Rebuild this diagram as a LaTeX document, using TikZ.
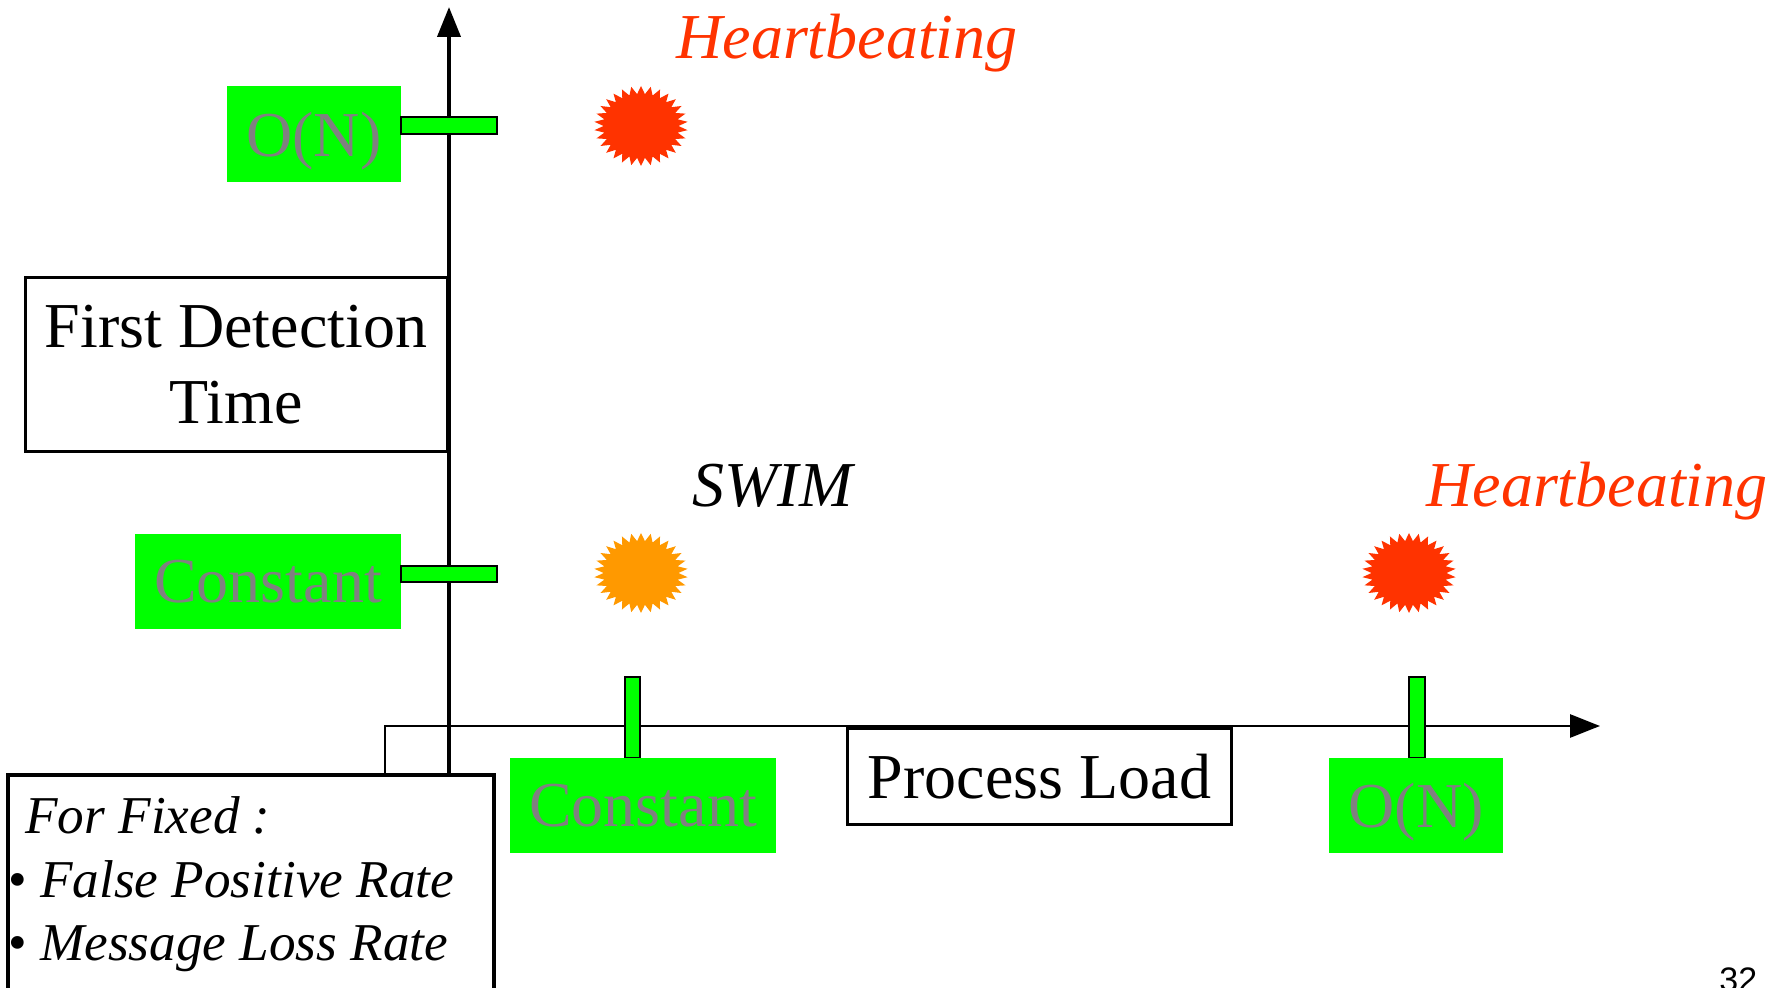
\documentclass[tikz,border=0pt]{standalone}
\usepackage{fontspec}
\setmainfont{Liberation Serif}
\setsansfont{Liberation Sans}
\usetikzlibrary{shapes.geometric,arrows.meta}
\definecolor{hbred}{HTML}{FF3300}
\definecolor{swimor}{HTML}{FF9900}
\definecolor{lgreen}{HTML}{00FF00}
\definecolor{lgray}{HTML}{808080}
\begin{document}
\begin{tikzpicture}[x=0.5pt,y=-0.5pt,
  bigfont/.style={font=\fontsize{32}{38}\selectfont},
  legfont/.style={font=\fontsize{26.6}{31.5}\selectfont\itshape},
  greenlab/.style={bigfont, fill=lgreen, text=lgray, inner sep=0pt, outer sep=0pt},
  ticklab/.style={fill=lgreen, draw=black, line width=0.85pt, inner sep=0pt, outer sep=0pt},
  framebox/.style={draw=black, line width=1.5pt, inner sep=0pt, align=center, bigfont},
  burst/.style={star, star points=30, star point ratio=1.25, minimum size=40pt, inner sep=0pt, xscale=1.17, transform shape},
  hbtext/.style={bigfont, text=hbred, inner sep=0pt, anchor=base west},
  axisline/.style={line width=2pt},
  xaxisline/.style={line width=1.4pt}
]
\useasboundingbox (0,0) rectangle (1788,988);
\clip (0,0) rectangle (1788,988);

% legend box
\node[draw=black, line width=2pt, minimum width=243pt, minimum height=120pt, anchor=north west, inner sep=0pt, outer sep=0pt] (legend) at (8,775) {};
\node[legfont, anchor=base west, inner sep=0pt] (leg1) at (25,833) {For Fixed :};
\node[legfont, anchor=base west, inner sep=0pt] (leg2) at (8,897) {\textup{•} False Positive Rate};
\node[legfont, anchor=base west, inner sep=0pt] (leg3) at (8,960) {\textup{•} Message Loss Rate};

% axes
\coordinate (ybot) at (449,775);
\coordinate (ytop) at (449,7);
\coordinate (xstart) at (385,775);
\coordinate (xcorner) at (385,726);
\coordinate (xend) at (1600,726);
\draw[axisline, -{Triangle[length=15pt,width=11.5pt]}] (ybot) -- (ytop);
\draw[xaxisline, -{Triangle[length=15pt,width=11.5pt]}] (xstart) -- (xcorner) -- (xend);

% axis titles
\node[framebox, minimum width=211pt, minimum height=87pt] (fdt) at (236,364.5) {First Detection\\[0pt]Time};
\node[framebox, fill=white, minimum width=192pt, minimum height=48pt] (pl) at (1039.5,776.5) {Process Load};

% y labels and ticks
\node[greenlab, text depth=0pt, minimum width=87pt, minimum height=48pt] (yon) at (314,134) {O(N)};
\node[ticklab, minimum width=48pt, minimum height=8.5pt] (yontick) at (449,125.5) {};
\node[greenlab, minimum width=133pt, minimum height=47.5pt] (yconst) at (268,581.5) {Constant};
\node[ticklab, minimum width=48pt, minimum height=8pt] (yconsttick) at (449,574) {};

% x labels and ticks
\node[ticklab, minimum width=7.5pt, minimum height=40.5pt] (xconsttick) at (632.5,717.5) {};
\node[ticklab, minimum width=8pt, minimum height=40.5pt] (xontick) at (1417,717.5) {};
\node[greenlab, minimum width=133pt, minimum height=47.5pt] (xconst) at (643,805.5) {Constant};
\node[greenlab, text depth=0pt, minimum width=87pt, minimum height=47.5pt] (xon) at (1416,805.5) {O(N)};

% bursts
\node[burst, fill=hbred] (b1) at (641,126) {};
\node[burst, fill=swimor] (b2) at (641,573) {};
\node[burst, fill=hbred] (b3) at (1409,573) {};

% labels
\node[hbtext] (hb1) at (676,59) {\itshape Heartbeating};
\node[bigfont, inner sep=0pt, anchor=base west] (swim) at (692,507) {\itshape SWIM};
\node[hbtext] (hb2) at (1426,507) {\itshape Heartbeating};

% page number
\node[font=\fontsize{17}{20}\selectfont\sffamily, anchor=base west, inner sep=0pt] (pnum) at (1719,991) {32};
\end{tikzpicture}
\end{document}
